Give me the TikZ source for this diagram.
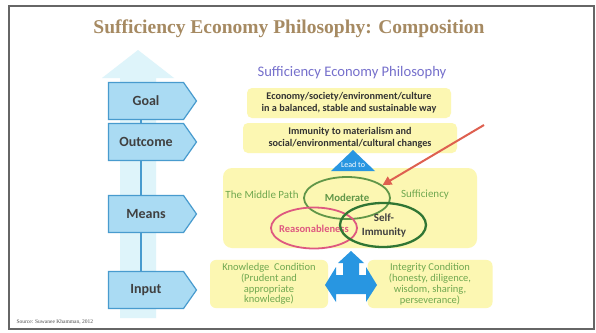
\documentclass[tikz,border=0pt]{standalone}
\usepackage{fontspec}
\setmainfont{Liberation Serif}
\newfontfamily\carl{Carlito}
\usetikzlibrary{arrows.meta,shapes.geometric,shapes.symbols}
\definecolor{titlec}{RGB}{166,138,98}
\definecolor{pale}{RGB}{222,244,250}
\definecolor{boxfill}{RGB}{170,219,243}
\definecolor{boxline}{RGB}{72,155,206}
\definecolor{yel}{RGB}{252,247,178}
\definecolor{purp}{RGB}{118,112,204}
\definecolor{gtext}{RGB}{112,168,80}
\definecolor{gell}{RGB}{96,150,72}
\definecolor{dgell}{RGB}{48,118,52}
\definecolor{pinkc}{RGB}{222,88,128}
\definecolor{bluea}{RGB}{40,150,225}
\definecolor{redarr}{RGB}{222,96,80}
\begin{document}
\begin{tikzpicture}[x=1pt,y=-1pt,
  stage/.style={signal, signal to=east, signal pointer angle=110, draw=boxline, line width=1.2pt, fill=boxfill,
     minimum width=88pt, minimum height=37pt, inner xsep=4pt, font=\carl\bfseries\fontsize{14}{16}\selectfont, text=black!75},
  ybox/.style={fill=yel, rounded corners=5pt, align=center, font=\carl\bfseries\fontsize{10.2}{12}\selectfont, text=black!80},
  gbox/.style={fill=yel, rounded corners=6pt, align=center, font=\carl\fontsize{10.5}{10.8}\selectfont, text=gtext},
  gtxt/.style={font=\carl\fontsize{11}{12}\selectfont, text=gtext},
  link/.style={draw=boxline, line width=1.5pt}]
\useasboundingbox (0,0) rectangle (596,332);
\fill[white] (0,0) rectangle (596,332);
\draw[black!60, line width=1.2pt] (9,6) rectangle (594,329);
% title
\node[font=\bfseries\fontsize{19.5}{21}\selectfont, text=titlec] (title) at (289,29) {Sufficiency Economy Philosophy: Composition};
% big pale arrow
\fill[pale] (120,318) -- (120,78) -- (102,78) -- (138,50) -- (174,78) -- (156,78) -- (156,318) -- cycle;
% stages
\node[stage] (goal) at (146,101) {Goal};
\node[stage] (outcome) at (146,142) {Outcome};
\node[stage] (means) at (146,214) {Means};
\node[stage] (input) at (146,290) {Input};
\draw[link] (goal.south -| 141,0) -- (outcome.north -| 141,0);
\draw[link] (outcome.south -| 141,0) -- (means.north -| 141,0);
\draw[link] (means.south -| 141,0) -- (input.north -| 141,0);
% right heading
\node[font=\carl\fontsize{14.6}{16}\selectfont, text=purp] (sep) at (352,73) {Sufficiency Economy Philosophy};
\node[ybox, minimum width=204pt, minimum height=30pt] (b1) at (349,103) {Economy/society/environment/culture\\in a balanced, stable and sustainable way};
\node[ybox, minimum width=214pt, minimum height=30pt] (b2) at (350,138) {Immunity to materialism and\\social/environmental/cultural changes};
% means box
\node[fill=yel, rounded corners=9pt, minimum width=254pt, minimum height=80pt] (mb) at (350,208) {};
% lead to triangle
\fill[bluea] (331,171) -- (353,150) -- (375,171) -- cycle;
\node[font=\carl\fontsize{8}{9}\selectfont, text=white] (lead) at (353,165) {Lead to};
% ellipses
\node[ellipse, draw=gell, line width=1.8pt, minimum width=86pt, minimum height=42pt] (mod) at (347,198) {};
\node[font=\carl\bfseries\fontsize{10.8}{12}\selectfont, text=gell] at (347,198) {Moderate};
\node[ellipse, draw=pinkc, line width=1.8pt, minimum width=86pt, minimum height=41pt] (rea) at (314,228) {};
\node[font=\carl\bfseries\fontsize{10.5}{12}\selectfont, text=pinkc] at (314,229) {Reasonableness};
\node[ellipse, draw=dgell, line width=2.3pt, minimum width=86pt, minimum height=44pt] (self) at (383,225) {};
\node[font=\carl\bfseries\fontsize{11}{14}\selectfont, text=black!75, align=center] at (384,226) {Self-\\Immunity};
\node[gtxt] (mid) at (262,195) {The Middle Path};
\node[gtxt] (suf) at (425,195) {Sufficiency};
% red arrow
\coordinate (rs) at (484,125);
\draw[redarr, line width=2pt, -{Triangle[length=9pt,width=9pt]}] (rs) -- (mod.20);
% bottom boxes
\node[gbox, minimum width=118pt, minimum height=42pt] (know) at (269,284) {Knowledge\ \ Condition\\(Prudent and\\appropriate\\knowledge)};
\node[gbox, minimum width=125pt, minimum height=42pt] (integ) at (430,284) {Integrity Condition\\(honesty, diligence,\\wisdom, sharing,\\perseverance)};
% blue multi arrow
\fill[bluea] (351,251) -- (364,263) -- (359,263) -- (359,275) -- (366,275) -- (366,267) -- (377,285) -- (366,302) -- (366,294)
  -- (336,294) -- (336,302) -- (325,285) -- (336,267) -- (336,275) -- (343,275) -- (343,263) -- (338,263) -- cycle;
% source
\node[font=\fontsize{5.5}{6}\selectfont, text=black!70, anchor=west] (src) at (13,322) {Source: Suwanee Khamman, 2012};
\end{tikzpicture}
\end{document}
